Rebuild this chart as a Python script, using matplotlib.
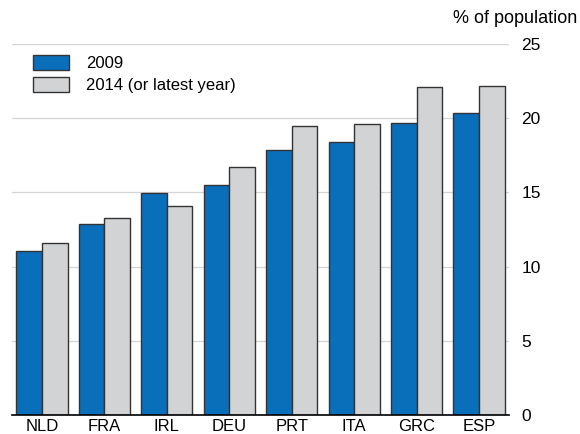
import numpy as np
import matplotlib
matplotlib.use("Agg")
import matplotlib.pyplot as plt
from matplotlib.patches import Patch

countries = ["NLD", "FRA", "IRL", "DEU", "PRT", "ITA", "GRC", "ESP"]
val_2009 = [11.05, 12.85, 14.98, 15.52, 17.88, 18.42, 19.70, 20.37]
val_2014 = [11.60, 13.30, 14.08, 16.69, 19.47, 19.61, 22.12, 22.19]
yticks = [0, 5, 10, 15, 20, 25]

plt.rcParams["font.family"] = ["Liberation Sans", "DejaVu Sans"]

blue = "#0a6fba"
grey = "#d1d3d4"
edge = "#333333"

fig = plt.figure(figsize=(5.8, 4.34), dpi=100)
ax = fig.add_axes([0.0207, 0.0438, 0.8569, 0.8548])

x = np.arange(len(countries))
w = 0.41
ax.bar(x - w / 2, val_2009, w, color=blue, edgecolor=edge, linewidth=1.0, zorder=3)
ax.bar(x + w / 2, val_2014, w, color=grey, edgecolor=edge, linewidth=1.0, zorder=3)

ax.set_xlim(-0.48, 7.48)
ax.set_ylim(0, 25)
ax.set_yticks(yticks)
ax.yaxis.tick_right()
ax.tick_params(axis="y", length=0, pad=9, labelsize=12.5)
ax.tick_params(axis="x", length=0, pad=3, labelsize=12)
ax.set_xticks(x)
ax.set_xticklabels(countries)
ax.yaxis.grid(True, color="#d4d4d4", linewidth=0.9, zorder=0)
for s in ["top", "left", "right"]:
    ax.spines[s].set_visible(False)
ax.spines["bottom"].set_color("black")
ax.spines["bottom"].set_linewidth(1.2)
ax.spines["bottom"].set_zorder(4)

fig.text(0.995, 0.957, "% of population", ha="right", va="center", fontsize=13)

handles = [Patch(facecolor=blue, edgecolor=edge, linewidth=1.0),
           Patch(facecolor=grey, edgecolor=edge, linewidth=1.0)]
leg = ax.legend(handles, ["2009", "2014 (or latest year)"],
                loc="upper left", bbox_to_anchor=(0.02, 1.0), frameon=False,
                fontsize=12, handlelength=2.2, handleheight=1.0,
                handletextpad=1.0, labelspacing=0.35, borderaxespad=0.25)

fig.savefig("out.png", dpi=100)
